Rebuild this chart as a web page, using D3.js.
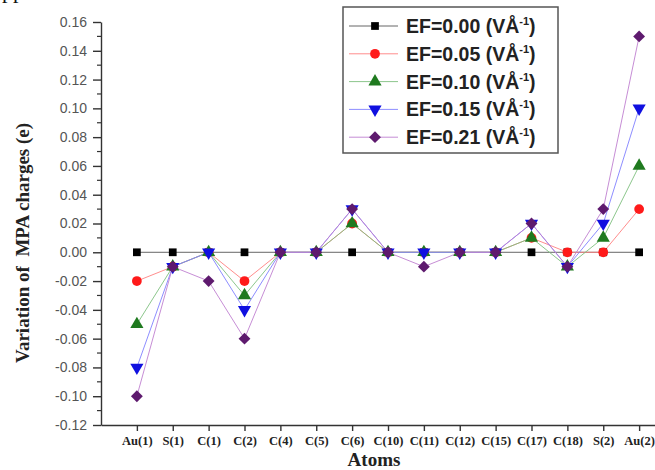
<!doctype html>
<html>
  <head>
    <meta charset="utf-8">
    <title>Variation of MPA charges</title>
    <script src="https://cdnjs.cloudflare.com/ajax/libs/d3/7.8.5/d3.min.js"></script>
    <style>
      body { margin: 0; background: #fff; }
      svg { display: block; }
    </style>
  </head>
  <body>
    <div id="root"></div>
    <script>
      // atoms along the x axis
      let atoms = ['Au(1)','S(1)','C(1)','C(2)','C(4)','C(5)','C(6)','C(10)','C(11)','C(12)','C(15)','C(17)','C(18)','S(2)','Au(2)'];

      // one array per field strength
      let ef000 = [0, 0, 0, 0, 0, 0, 0, 0, 0, 0, 0, 0, 0, 0, 0];
      let ef005 = [-0.02, -0.01, 0, -0.02, 0, 0, 0.02, 0, 0, 0, 0, 0.01, 0, 0, 0.03];
      let ef010 = [-0.05, -0.01, 0, -0.03, 0, 0, 0.02, 0, 0, 0, 0, 0.01, -0.01, 0.01, 0.06];
      let ef015 = [-0.08, -0.01, 0, -0.04, 0, 0, 0.03, 0, 0, 0, 0, 0.02, -0.01, 0.02, 0.10];
      let ef021 = [-0.10, -0.01, -0.02, -0.06, 0, 0, 0.03, 0, -0.01, 0, 0, 0.02, -0.01, 0.03, 0.15];

      let seriesNames = ['EF=0.00', 'EF=0.05', 'EF=0.10', 'EF=0.15', 'EF=0.21'];
      let yTicks = [-0.12, -0.10, -0.08, -0.06, -0.04, -0.02, 0.00, 0.02, 0.04, 0.06, 0.08, 0.10, 0.12, 0.14, 0.16];
      let yMinorTicks = [-0.11, -0.09, -0.07, -0.05, -0.03, -0.01, 0.01, 0.03, 0.05, 0.07, 0.09, 0.11, 0.13, 0.15];

      let width = 655, height = 470;
      let margin = {top: 22, right: -20, bottom: 45, left: 101};

      let series = [
        {name: seriesNames[0], values: ef000, color: '#000000', line: '#555555', shape: d3.symbolSquare, size: 60, rot: 0},
        {name: seriesNames[1], values: ef005, color: '#ff1a1a', line: '#ff8080', shape: d3.symbolCircle, size: 75, rot: 0},
        {name: seriesNames[2], values: ef010, color: '#1f7a1f', line: '#7fbf7f', shape: d3.symbolTriangle, size: 75, rot: 0},
        {name: seriesNames[3], values: ef015, color: '#1010e0', line: '#8080ff', shape: d3.symbolTriangle, size: 75, rot: 180},
        {name: seriesNames[4], values: ef021, color: '#5e1a6e', line: '#c080d0', shape: d3.symbolSquare, size: 70, rot: 45}
      ];

      let svg = d3.select('#root')
        .append('svg')
        .attr('width', width)
        .attr('height', height);

      // scales
      let xScale = d3.scalePoint()
        .domain(atoms)
        .range([margin.left, width - margin.right])
        .padding(1);

      let yScale = d3.scaleLinear()
        .domain([-0.12, 0.16])
        .range([height - margin.bottom, margin.top]);

      // cut-off text from the page above
      svg.append('text')
        .attr('x', 2)
        .attr('y', -2)
        .attr('font-family', 'Liberation Serif, Times New Roman, serif')
        .attr('font-size', 22)
        .attr('fill', '#111')
        .text('pp');

      // y axis
      let yAxis = svg.append('g')
        .attr('transform', 'translate(' + margin.left + ',0)')
        .call(d3.axisLeft(yScale)
          .tickValues(yTicks)
          .tickSize(8)
          .tickSizeOuter(0)
          .tickFormat(d => (d < 0 ? '-' : '') + Math.abs(d).toFixed(2)));
      yAxis.selectAll('text')
        .attr('font-family', 'Liberation Sans, Arial, sans-serif')
        .attr('font-size', 14)
        .attr('fill', '#555')
        .attr('x', -14);
      svg.append('g')
        .attr('transform', 'translate(' + margin.left + ',0)')
        .selectAll('line')
        .data(yMinorTicks)
        .enter()
        .append('line')
        .attr('x1', -4)
        .attr('x2', 0)
        .attr('y1', d => yScale(d))
        .attr('y2', d => yScale(d))
        .attr('stroke', '#333')
        .attr('stroke-width', 1.2);

      // x axis
      let xAxis = svg.append('g')
        .attr('transform', 'translate(0,' + (height - margin.bottom) + ')')
        .call(d3.axisBottom(xScale).tickSize(6).tickSizeOuter(0));
      xAxis.selectAll('text')
        .attr('font-family', 'Liberation Serif, Times New Roman, serif')
        .attr('font-weight', 'bold')
        .attr('font-size', 12.5)
        .attr('fill', '#222')
        .attr('dy', '0.85em');

      svg.selectAll('.domain, .tick line')
        .attr('stroke', '#333')
        .attr('stroke-width', 1.4);

      // axis titles
      svg.append('text')
        .attr('transform', 'translate(29,243) rotate(-90)')
        .attr('text-anchor', 'middle')
        .attr('font-family', 'Liberation Serif, Times New Roman, serif')
        .attr('font-weight', 'bold')
        .attr('font-size', 19)
        .attr('fill', '#222')
        .attr('xml:space', 'preserve')
        .text('Variation of  MPA charges (e)');

      svg.append('text')
        .attr('x', 374)
        .attr('y', 466)
        .attr('text-anchor', 'middle')
        .attr('font-family', 'Liberation Serif, Times New Roman, serif')
        .attr('font-weight', 'bold')
        .attr('font-size', 19)
        .attr('fill', '#222')
        .text('Atoms');

      // lines and markers
      let line = d3.line()
        .x((d, i) => xScale(atoms[i]))
        .y(d => yScale(d));

      series.forEach(s => {
        svg.append('path')
          .datum(s.values)
          .attr('d', line)
          .attr('fill', 'none')
          .attr('stroke', s.line)
          .attr('stroke-width', 0.9);
      });

      series.forEach(s => {
        svg.append('g')
          .selectAll('path')
          .data(s.values)
          .enter()
          .append('path')
          .attr('d', d3.symbol().type(s.shape).size(s.size))
          .attr('transform', (d, i) => 'translate(' + xScale(atoms[i]) + ',' + yScale(d) + ') rotate(' + s.rot + ')')
          .attr('fill', s.color);
      });

      // legend
      let legend = svg.append('g');
      legend.append('rect')
        .attr('x', 343)
        .attr('y', 7)
        .attr('width', 215)
        .attr('height', 146)
        .attr('fill', '#fff')
        .attr('stroke', '#555')
        .attr('stroke-width', 1.5);

      let rows = legend.selectAll('.row')
        .data(series)
        .enter()
        .append('g')
        .attr('class', 'row')
        .attr('transform', (d, i) => 'translate(0,' + (26 + i * 27.8) + ')');

      rows.append('line')
        .attr('x1', 349)
        .attr('x2', 398)
        .attr('stroke', d => d.line)
        .attr('stroke-width', 0.9);

      rows.append('path')
        .attr('d', d => d3.symbol().type(d.shape).size(d.size)())
        .attr('transform', d => 'translate(375,0) rotate(' + d.rot + ')')
        .attr('fill', d => d.color);

      let labels = rows.append('text')
        .attr('x', 406)
        .attr('y', 7)
        .attr('font-family', 'Liberation Sans, Arial, sans-serif')
        .attr('font-weight', 'bold')
        .attr('font-size', 19.5)
        .attr('fill', '#222');
      labels.append('tspan').text(d => d.name + ' (VÅ');
      labels.append('tspan')
        .attr('dy', -8)
        .attr('font-size', 11)
        .text('-1');
      labels.append('tspan')
        .attr('dy', 8)
        .text(')');
    </script>
  </body>
</html>
